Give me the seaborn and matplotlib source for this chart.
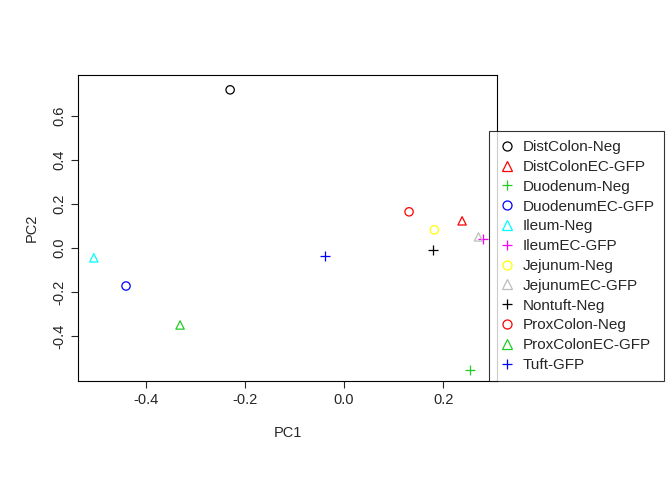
import numpy as np
import matplotlib
matplotlib.use("Agg")
import matplotlib.pyplot as plt
import seaborn as sns
from matplotlib.lines import Line2D

samples = ["DistColon-Neg", "DistColonEC-GFP", "Duodenum-Neg", "DuodenumEC-GFP",
           "Ileum-Neg", "IleumEC-GFP", "Jejunum-Neg", "JejunumEC-GFP",
           "Nontuft-Neg", "ProxColon-Neg", "ProxColonEC-GFP", "Tuft-GFP"]
pc1 = [-0.230, 0.238, 0.253, -0.440, -0.505, 0.281, 0.182, 0.271, 0.180, 0.131, -0.331, -0.038]
pc2 = [0.718, 0.123, -0.555, -0.173, -0.045, 0.041, 0.082, 0.050, -0.009, 0.164, -0.350, -0.036]
colors = ["black", "red", "#22cc22", "blue", "cyan", "magenta", "yellow", "#bebebe",
          "black", "red", "#22cc22", "blue"]
markers = ["o", "^", "+"] * 4

sns.set_style("white")
plt.rcParams['font.family'] = ['Liberation Sans', 'DejaVu Sans']
fig = plt.figure(figsize=(6.72, 4.8), dpi=100)
ax = fig.add_axes([0.116, 0.206, 0.624, 0.638])

handles = []
for x, y, c, m, lab in zip(pc1, pc2, colors, markers, samples):
    if m == "+":
        sns.scatterplot(x=[x], y=[y], marker=m, s=60, color=c, linewidth=0.9, ax=ax)
    else:
        sns.scatterplot(x=[x], y=[y], marker=m, s=36, facecolors="none", edgecolor=c, linewidth=0.9, ax=ax)
    handles.append(Line2D([], [], marker=m, color=c, markerfacecolor="none", linestyle="none",
                          markersize=6.5, markeredgewidth=0.9, label=lab))

ax.set_xlim(-0.537, 0.309)
ax.set_ylim(-0.605, 0.786)
ax.set_xticks([-0.4, -0.2, 0.0, 0.2])
ax.set_xticklabels(["-0.4", "-0.2", "0.0", "0.2"])
ax.set_yticks([-0.4, -0.2, 0.0, 0.2, 0.4, 0.6])
ax.set_yticklabels(["-0.4", "-0.2", "0.0", "0.2", "0.4", "0.6"], rotation=90, va="center")
ax.tick_params(axis="both", labelsize=10.5, length=5, width=0.8, direction="out", bottom=True, left=True)
ax.set_xlabel("PC1", fontsize=10.5, labelpad=14)
ax.set_ylabel("PC2", fontsize=10.5, labelpad=10)
for s in ax.spines.values():
    s.set_color("black")
    s.set_linewidth(0.8)

leg = fig.legend(handles=handles, loc="upper left", bbox_to_anchor=(489 / 672, 1 - 131 / 480),
                 frameon=True, fancybox=False, fontsize=11, handletextpad=0.4,
                 labelspacing=0.38, borderpad=0.6, handlelength=1.2, borderaxespad=0)
leg.get_frame().set_edgecolor("black")
leg.get_frame().set_linewidth(0.8)

fig.savefig("out.png", dpi=100)
